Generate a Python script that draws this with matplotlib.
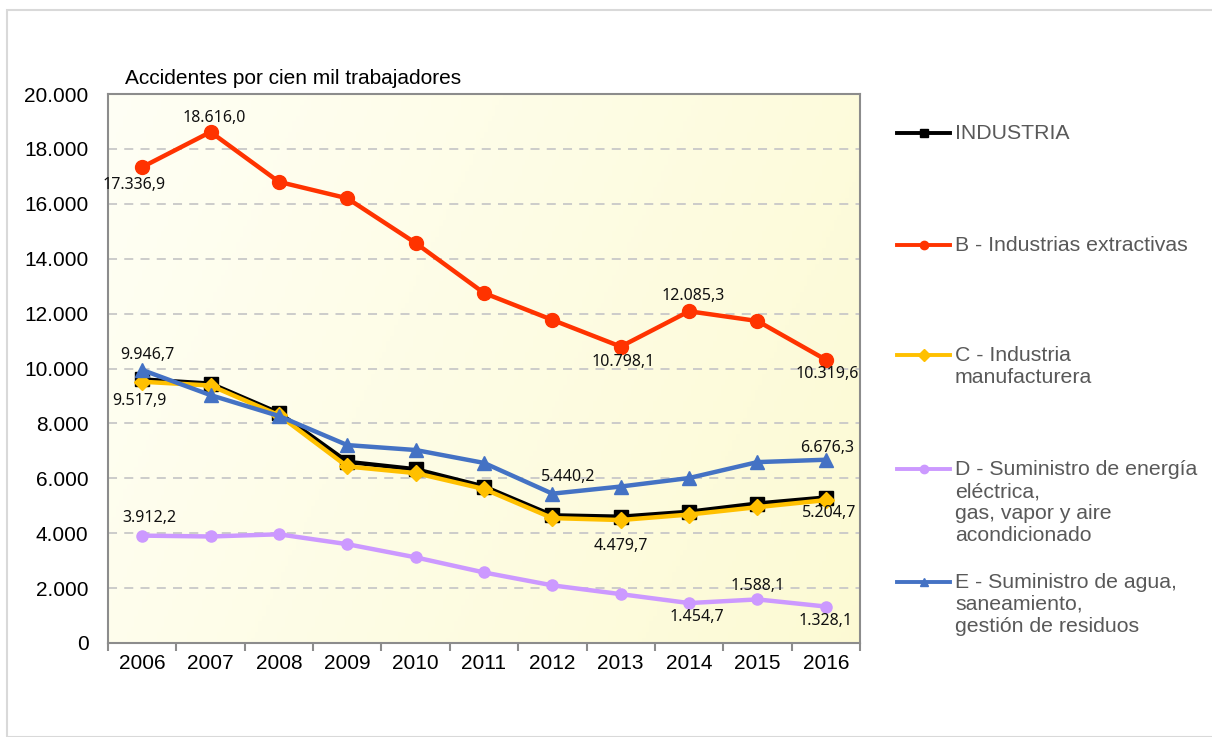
import matplotlib.pyplot as plt
from matplotlib.lines import Line2D
from matplotlib.patches import Rectangle
import numpy as np

# data
years = ["2006", "2007", "2008", "2009", "2010", "2011",
         "2012", "2013", "2014", "2015", "2016"]
industria = [9600, 9450, 8380, 6600, 6330, 5700, 4650, 4600, 4780, 5080, 5300]
extractivas = [17336.9, 18616.0, 16800, 16200, 14570, 12750, 11770,
               10798.1, 12085.3, 11730, 10319.6]
manufacturera = [9517.9, 9380, 8300, 6430, 6190, 5610, 4550, 4479.7,
                 4680, 4950, 5204.7]
energia = [3912.2, 3880, 3960, 3600, 3120, 2570, 2100, 1780, 1454.7,
           1588.1, 1328.1]
agua = [9946.7, 9030, 8270, 7210, 7030, 6560, 5440.2, 5700, 6010,
        6590, 6676.3]

labels = [
    "INDUSTRIA",
    "B - Industrias extractivas",
    "C - Industria\nmanufacturera",
    "D - Suministro de energía\neléctrica,\ngas, vapor y aire\nacondicionado",
    "E - Suministro de agua,\nsaneamiento,\ngestión de residuos",
]
ylabel_text = "Accidentes por cien mil trabajadores"

# (series, index) -> pixel offset of the value label
value_labels = [
    (1, 0, (-8, -18)), (1, 1, (4, 14)), (1, 7, (2, -15)),
    (1, 8, (4, 15)), (1, 10, (1, -14)),
    (4, 0, (5, 15)), (2, 0, (-3, -19)), (4, 10, (1, 12)),
    (4, 6, (16, 17)), (2, 7, (0, -26)), (2, 10, (3, -13)),
    (3, 0, (7, 18)), (3, 8, (8, -14)), (3, 9, (0, 13)), (3, 10, (0, -14)),
]

W, H = 1212, 737
fig = plt.figure(figsize=(W / 100, H / 100), dpi=100)
plt.rcParams["font.family"] = ["Liberation Sans", "DejaVu Sans"]

# light frame around the whole chart
fig.patches.append(Rectangle((7 / W, 0), 1.0, 1 - 10 / H, transform=fig.transFigure,
                             fill=False, edgecolor="#D9D9D9", lw=1.5))

ax = fig.add_axes([108 / W, 1 - 643 / H, (860 - 108) / W, (643 - 94) / H])

# pale yellow gradient background
gx, gy = np.meshgrid(np.linspace(0, 1, 200), np.linspace(0, 1, 100))
t = np.clip(0.75 * gx + 0.25 * (1 - gy), 0, 1)
c0 = np.array([1.0, 1.0, 0.96])
c1 = np.array([0.99, 0.98, 0.83])
img = c0 + (c1 - c0) * t[..., None]
ax.imshow(img, extent=[0, 1, 0, 1], transform=ax.transAxes, origin="lower",
          aspect="auto", zorder=0)

series = [industria, extractivas, manufacturera, energia, agua]
styles = [
    dict(color="black", marker="s", ms=10, lw=3.2),
    dict(color="#FF3300", marker="o", ms=10, lw=3.2),
    dict(color="#FFC000", marker="D", ms=8.5, lw=3.2),
    dict(color="#CC99FF", marker="o", ms=8, lw=3.2),
    dict(color="#4472C4", marker="^", ms=10, lw=3.2),
]
x = np.arange(len(years))
draw_order = [3, 0, 2, 4, 1]
for i in draw_order:
    st = styles[i]
    ax.plot(x, series[i], color=st["color"], lw=st["lw"], marker=st["marker"],
            ms=st["ms"], mfc=st["color"], mec=st["color"], zorder=3 + i * 0.1)


def fmt(v):
    s = f"{v:,.1f}"
    return s.replace(",", "X").replace(".", ",").replace("X", ".")


for si, idx, off in value_labels:
    ax.annotate(fmt(series[si][idx]), (x[idx], series[si][idx]),
                xytext=off, textcoords="offset pixels", ha="center",
                va="center", fontsize=11.5, family="Noto Sans",
                color="#111111", zorder=6)

ax.set_xlim(-0.5, len(years) - 0.5)
ax.set_ylim(0, 20000)
ax.set_yticks(np.arange(0, 20001, 2000))
ax.set_yticklabels([fmt(v)[:-2] if v else "0" for v in np.arange(0, 20001, 2000)],
                   fontsize=15)
ax.tick_params(axis="y", length=0, pad=14)
ax.set_xticks(np.arange(-0.5, len(years), 1))
ax.set_xticklabels([])
ax.set_xticks(x, minor=True)
ax.set_xticklabels(years, minor=True, fontsize=15)
ax.tick_params(axis="x", which="major", length=6, width=1.5, color="#8C8C8C",
               direction="out")
ax.tick_params(axis="x", which="minor", length=0, pad=8)
for sp in ax.spines.values():
    sp.set_color("#8C8C8C")
    sp.set_linewidth(1.5)
ax.yaxis.grid(True, ls=(0, (5, 4)), color="#C8C8C8", lw=1.3)
ax.set_axisbelow(True)

ax.text(125 / W, 1 - 78 / H, ylabel_text, transform=fig.transFigure,
        fontsize=15, va="center", ha="left")

# legend drawn by hand to keep Excel's uneven spacing
leg_y = [133, 245, 355, 469, 582]
for i, yy in enumerate(leg_y):
    st = styles[i]
    yf = 1 - yy / H
    fig.add_artist(Line2D([897 / W, 923.5 / W, 950 / W], [yf, yf, yf],
                          transform=fig.transFigure, color=st["color"], lw=2.8,
                          marker=st["marker"], markevery=[1], ms=6))
    fig.text(955 / W, yf + 9 / H, labels[i], fontsize=15.3, color="#595959",
             va="top", ha="left", linespacing=1.2)

fig.savefig("out.png", dpi=100)
